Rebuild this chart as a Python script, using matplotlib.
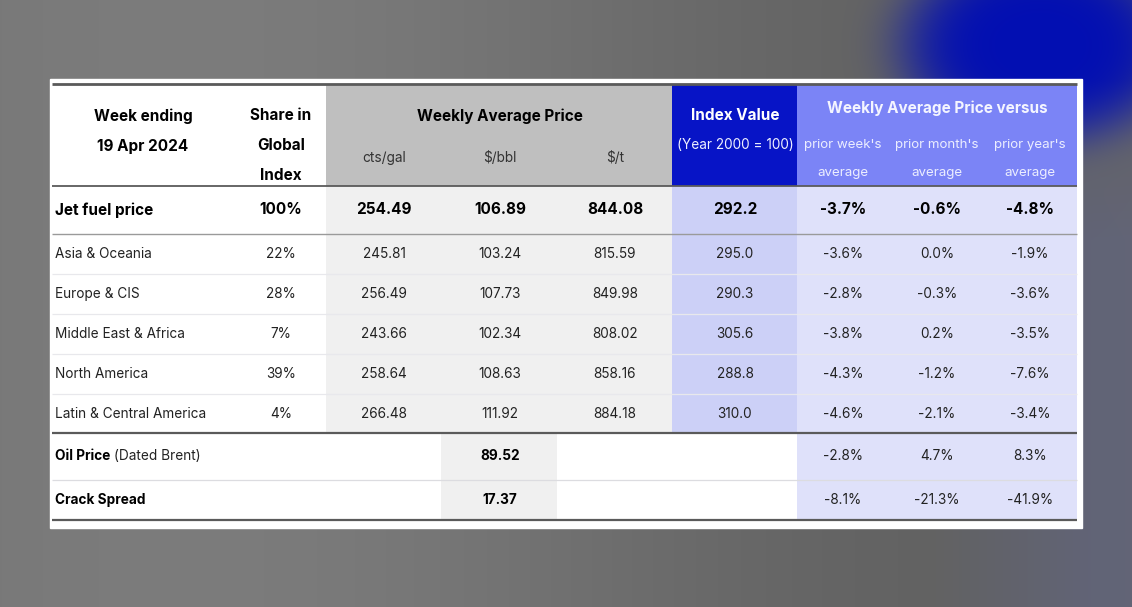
import numpy as np
import matplotlib
matplotlib.use("Agg")
import matplotlib.pyplot as plt

# ---------------- data ----------------
week_label = ["Week ending", "19 Apr 2024"]
regions = ["Asia & Oceania", "Europe & CIS", "Middle East & Africa",
           "North America", "Latin & Central America"]
share = ["22%", "28%", "7%", "39%", "4%"]
cts_gal = ["245.81", "256.49", "243.66", "258.64", "266.48"]
usd_bbl = ["103.24", "107.73", "102.34", "108.63", "111.92"]
usd_t = ["815.59", "849.98", "808.02", "858.16", "884.18"]
index_val = ["295.0", "290.3", "305.6", "288.8", "310.0"]
vs_week = ["-3.6%", "-2.8%", "-3.8%", "-4.3%", "-4.6%"]
vs_month = ["0.0%", "-0.3%", "0.2%", "-1.2%", "-2.1%"]
vs_year = ["-1.9%", "-3.6%", "-3.5%", "-7.6%", "-3.4%"]

jet_row = ["Jet fuel price", "100%", "254.49", "106.89", "844.08", "292.2",
           "-3.7%", "-0.6%", "-4.8%"]
oil_row = ["Oil Price", " (Dated Brent)", "89.52", "-2.8%", "4.7%", "8.3%"]
crack_row = ["Crack Spread", "17.37", "-8.1%", "-21.3%", "-41.9%"]

W, H = 1132, 607
plt.rcParams['font.family'] = ['Inter', 'DejaVu Sans']
fig = plt.figure(figsize=(W / 100, H / 100), dpi=100)
ax = fig.add_axes([0, 0, 1, 1])
ax.set_xlim(0, W)
ax.set_ylim(H, 0)
ax.axis('off')

# ---------------- blurred background ----------------
yy, xx = np.mgrid[0:H, 0:W]
base = 0.45 + 0.04 * np.cos((xx - 220) / 240.0) - 0.03 * (xx / W)
bg = np.stack([base, base, base], axis=-1)
blob = np.exp(-(((xx - 1040) / 140.0) ** 2 + ((yy - 45) / 100.0) ** 2) ** 2.4)
blue = np.array([0.01, 0.06, 0.70])
bg = bg * (1 - blob[..., None]) + blue * blob[..., None]
tint = np.clip((xx - 930) / 160.0, 0, 1) * np.clip((yy - 80) / 160.0, 0, 1) * 0.45
bg = bg * (1 - tint[..., None]) + np.array([0.38, 0.40, 0.56]) * tint[..., None]
ax.imshow(np.clip(bg, 0, 1), extent=(0, W, H, 0), aspect='auto', zorder=0)

# ---------------- card ----------------
L, R = 52, 1077
ax.add_patch(plt.Rectangle((50, 79), 1032, 449, color='white', zorder=1))

def rect(x0, x1, y0, y1, c):
    ax.add_patch(plt.Rectangle((x0, y0), x1 - x0, y1 - y0, color=c, lw=0, zorder=2))

HDR_T, HDR_B = 84, 186
JET_B = 234
row_edges = [234, 274, 314, 354, 394, 433]
OIL_B, CR_B = 480, 520

C_GRAY_H = '#bfbfbf'
C_GRAY = '#f0f0f0'
C_DB = '#0714c6'
C_MB = '#7b84f6'
C_IDX = '#ccd0f7'
C_VS = '#dfe1fa'

rect(326, 672, HDR_T, HDR_B, C_GRAY_H)
rect(672, 797, HDR_T, HDR_B, C_DB)
rect(797, R, HDR_T, HDR_B, C_MB)
rect(326, 672, HDR_B, 433, C_GRAY)
rect(672, 797, HDR_B, 433, C_IDX)
rect(797, R, HDR_B, CR_B, C_VS)
rect(441, 557, 433, CR_B, C_GRAY)

def hline(y, c, lw):
    ax.plot([L, R], [y, y], color=c, lw=lw, zorder=3, solid_capstyle='butt')

hline(HDR_T, '#5a5a5a', 2.0)
hline(HDR_B, '#5a5a5a', 1.3)
hline(JET_B, '#9a9a9a', 1.0)
for y in row_edges[1:-1]:
    hline(y, '#e8e8ec', 0.9)
hline(433, '#5a5a5a', 1.6)
hline(OIL_B, '#dcdce0', 0.9)
hline(CR_B, '#5a5a5a', 1.6)

# ---------------- text ----------------
def t(x, y, s, size=9.8, bold=False, color='#222222', ha='center'):
    return ax.text(x, y, s, fontsize=size, fontweight='bold' if bold else 'normal',
                   color=color, ha=ha, va='center', zorder=4, parse_math=False)

HB = 11.0
BODY = 9.8
SUB = 9.6
t(143, 116, week_label[0], HB, True, 'black')
t(143, 147, week_label[1], HB, True, 'black')
t(281, 116, "Share in", HB, True, 'black')
t(281, 146, "Global", HB, True, 'black')
t(281, 175, "Index", HB, True, 'black')
t(500, 116, "Weekly Average Price", HB, True, 'black')
col_x = [281, 384, 500, 615, 735, 843, 937, 1030]
t(384, 158, "cts/gal", BODY, False, '#333333')
t(500, 158, "$/bbl", BODY, False, '#333333')
t(615, 158, "$/t", BODY, False, '#333333')
t(735, 115, "Index Value", HB, True, 'white')
t(735, 145, "(Year 2000 = 100)", 9.8, False, '#eef0ff')
t(937, 108, "Weekly Average Price versus", HB, True, '#f4f5ff')
for x, s in zip(col_x[5:], ["prior week's", "prior month's", "prior year's"]):
    t(x, 145, s, SUB, False, '#eceeff')
    t(x, 173, "average", SUB, False, '#eceeff')

# jet fuel row
yj = 210
t(55, yj, jet_row[0], 11.0, True, 'black', ha='left')
for x, s in zip(col_x, jet_row[1:]):
    t(x, yj, s, 11.0, True, 'black')

# region rows
for i, name in enumerate(regions):
    y = (row_edges[i] + row_edges[i + 1]) / 2
    t(55, y, name, BODY, ha='left')
    vals = [share[i], cts_gal[i], usd_bbl[i], usd_t[i], index_val[i],
            vs_week[i], vs_month[i], vs_year[i]]
    for x, s in zip(col_x, vals):
        t(x, y, s, BODY)

# oil price row
yo = (433 + OIL_B) / 2
a = ax.text(55, yo, oil_row[0], fontsize=BODY, fontweight='bold', color='black',
            ha='left', va='center', zorder=4)
ax.annotate(oil_row[1], xy=(1, yo), xycoords=(a, 'data'), fontsize=BODY,
            color='#222222', ha='left', va='center', zorder=4)
t(500, yo, oil_row[2], BODY, True, 'black')
for x, s in zip(col_x[5:], oil_row[3:]):
    t(x, yo, s, BODY)

# crack spread row
yc = (OIL_B + CR_B) / 2
t(55, yc, crack_row[0], BODY, True, 'black', ha='left')
t(500, yc, crack_row[1], BODY, True, 'black')
for x, s in zip(col_x[5:], crack_row[2:]):
    t(x, yc, s, BODY)

fig.savefig("out.png", dpi=100)
